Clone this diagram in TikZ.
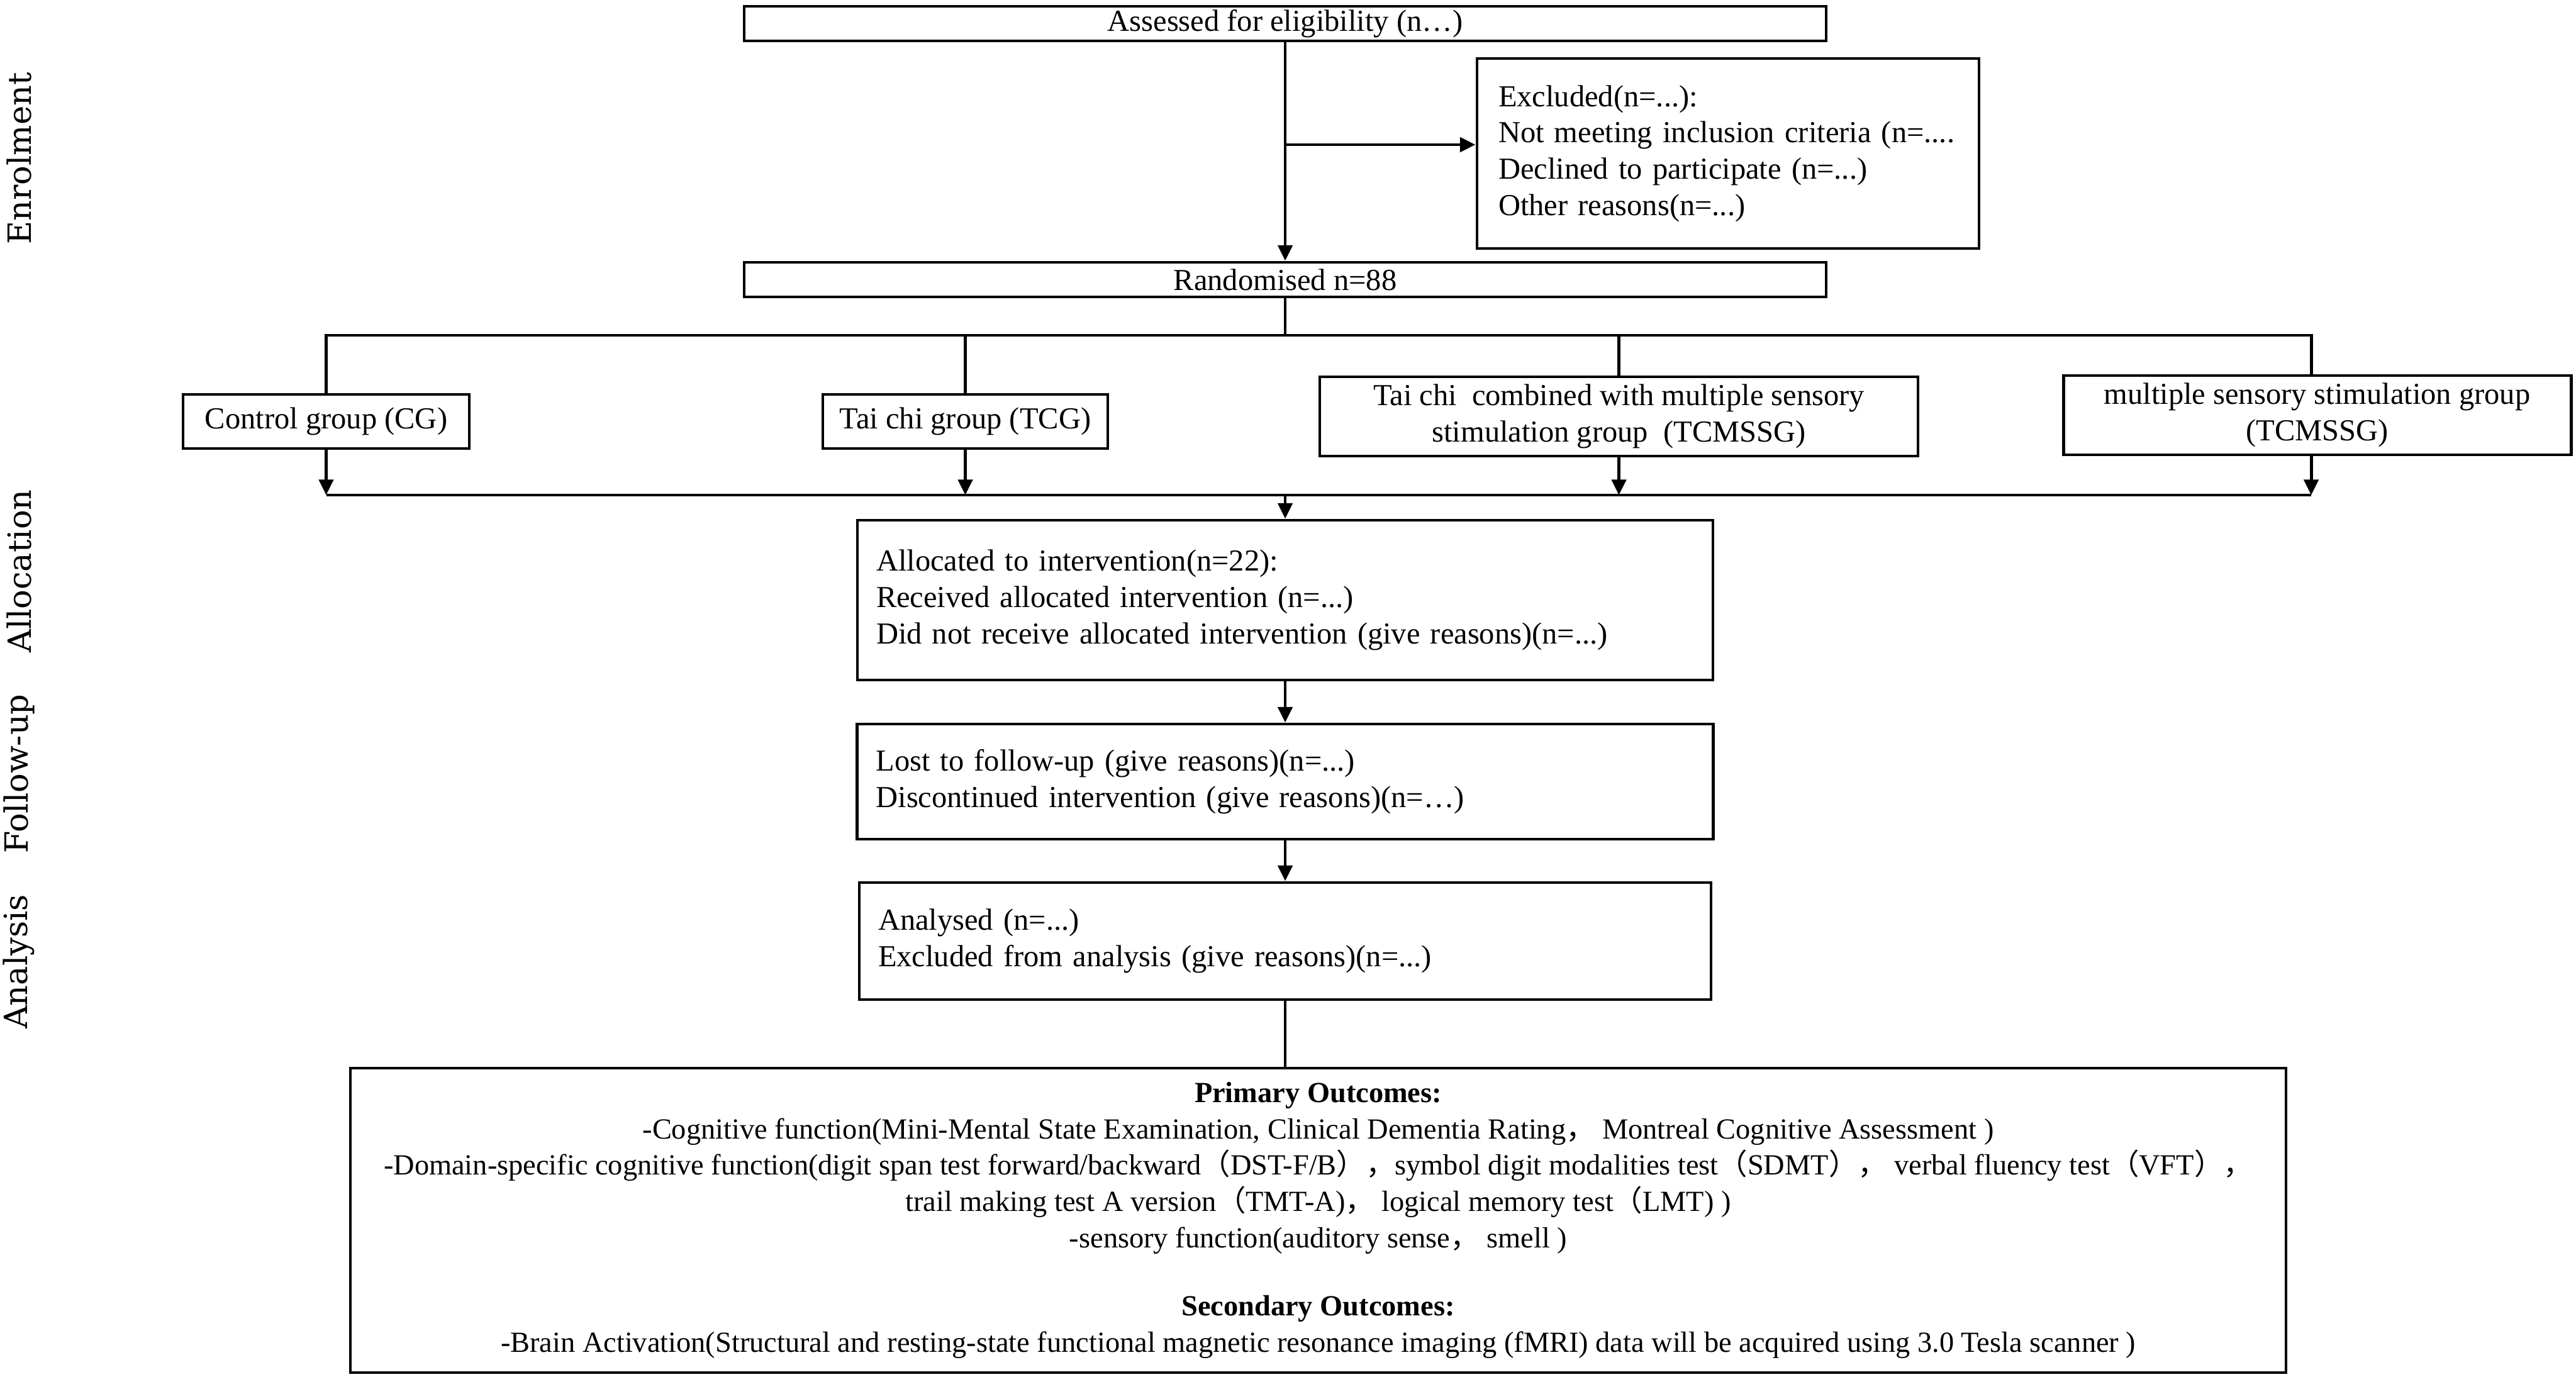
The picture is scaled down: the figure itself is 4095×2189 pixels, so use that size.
\documentclass[tikz,border=0pt]{standalone}
\usepackage{fontspec}
\setmainfont{Liberation Serif}
\newfontfamily\labfont{DejaVu Serif}
\newfontfamily\cjk{Noto Sans CJK SC}
\usetikzlibrary{arrows.meta}

\newcommand{\fwc}{{\cjk ，}}
\newcommand{\fwl}{{\cjk （}}
\newcommand{\fwr}{{\cjk ）}}

\tikzset{
  box/.style={draw, line width=1.4pt, inner sep=0pt, font=\fontsize{13.8pt}{16.4pt}\selectfont},
  side/.style={font=\labfont\fontsize{14.5pt}{16pt}\selectfont, rotate=90},
  conn/.style={line width=1.4pt},
  arr/.style={conn, -{Triangle[length=7pt,width=6.5pt]}},
}

\begin{document}
\begin{tikzpicture}[x=0.1mm, y=-0.1mm]

\useasboundingbox (0,0) rectangle (4095,2189);

% side labels
\node[side] (enrol) at (30,252) {Enrolment};
\node[side] (alloclab) at (30,908) {Allocation};
\node[side] (fuplab) at (30,1230) {Follow-up};
\node[side] (analab) at (30,1529) {Analysis};

% enrolment
\node[box, minimum width=172mm, minimum height=5.5mm] (assess) at (2043,37.5) {Assessed for eligibility (n…)};
\node[box, text width=73mm, inner xsep=3.4mm, minimum height=30.2mm, align=left] (excl) at (2747,244)
  {Excluded(n=...):\\Not meeting inclusion criteria (n=....\\Declined to participate (n=...)\\Other reasons(n=...)};
\node[box, minimum width=172mm, minimum height=5.5mm] (rand) at (2043,444.5) {Randomised n=88};

% groups
\node[box, minimum width=45.5mm, minimum height=8.6mm] (cg) at (518.5,670) {Control group (CG)};
\node[box, minimum width=45.3mm, minimum height=8.6mm] (tcg) at (1534.5,670) {Tai chi group (TCG)};
\node[box, minimum width=95.1mm, minimum height=12.6mm, align=center] (tcm) at (2573.5,662)
  {Tai chi\ \ combined with multiple sensory\\stimulation group\ \ (TCMSSG)};
\node[box, minimum width=80.7mm, minimum height=12.6mm, align=center] (mss) at (3683.5,660)
  {multiple sensory stimulation group\\(TCMSSG)};

% allocation, follow-up, analysis
\node[box, text width=130mm, inner xsep=3mm, minimum height=25.4mm, align=left] (alloc) at (2043,954)
  {Allocated to intervention(n=22):\\Received allocated intervention (n=...)\\Did not receive allocated intervention (give reasons)(n=...)};
\node[box, text width=130.1mm, inner xsep=3mm, minimum height=18.3mm, align=left] (fup) at (2043,1242.5)
  {Lost to follow-up (give reasons)(n=...)\\Discontinued intervention (give reasons)(n=…)};
\node[box, text width=129.4mm, inner xsep=3mm, minimum height=18.6mm, align=left] (ana) at (2043,1496)
  {Analysed (n=...)\\Excluded from analysis (give reasons)(n=...)};

% outcomes
\node[box, line width=0.9pt, font=\fontsize{13.2pt}{16.4pt}\selectfont, minimum width=307.7mm, minimum height=48.4mm, align=center] (outc) at (2095.5,1940)
  {\textbf{Primary Outcomes:}\\
   -Cognitive function(Mini-Mental State Examination, Clinical Dementia Rating\fwc\ Montreal Cognitive Assessment )\\
   -Domain-specific cognitive function(digit span test forward/backward\fwl DST-F/B\fwr\fwc symbol digit modalities test\fwl SDMT\fwr\fwc\ verbal fluency test\fwl VFT\fwr\fwc\\
   trail making test A version\fwl TMT-A)\fwc\ logical memory test\fwl LMT) )\\
   -sensory function(auditory sense\fwc\ smell )\\[14.5pt]
   \textbf{Secondary Outcomes:}\\
   -Brain Activation(Structural and resting-state functional magnetic resonance imaging (fMRI) data will be acquired using 3.0 Tesla scanner )};

% bus points
\coordinate (split) at (2043,230);
\coordinate (tl) at (518.5,533);
\coordinate (tr) at (3674,533);
\coordinate (bl) at (518.5,787);
\coordinate (br) at (3674,787);

% lines
\draw[arr] (assess.south) -- (rand.north);
\draw[arr] (split) -- (split -| excl.west);

\draw[conn] (rand.south) -- (rand.south |- tl);
\draw[conn] (cg.north) -- (tl) -- (tr) -- (tr |- mss.north);
\draw[conn] (tcg.north) -- (tcg.north |- tl);
\draw[conn] (tcm.north) -- (tcm.north |- tl);

\draw[arr] (cg.south) -- (bl);
\draw[arr] (tcg.south) -- (tcg.south |- bl);
\draw[arr] (tcm.south) -- (tcm.south |- bl);
\draw[arr] (tr |- mss.south) -- (br);
\draw[conn] (bl) -- (br);

\draw[arr] (rand.south |- bl) -- (alloc.north);
\draw[arr] (alloc.south) -- (fup.north);
\draw[arr] (fup.south) -- (ana.north);
\draw[conn] (ana.south) -- (ana.south |- outc.north);

\end{tikzpicture}
\end{document}
